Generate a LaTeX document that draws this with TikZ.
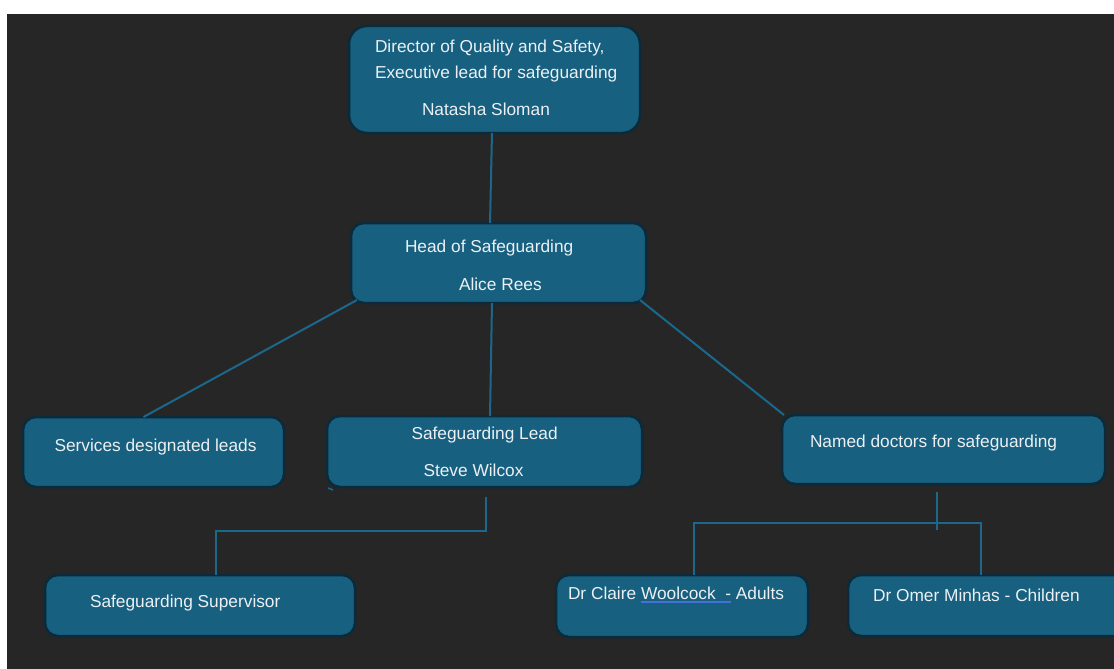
\documentclass[tikz,border=0pt]{standalone}
\usepackage{fontspec}
\setmainfont{Liberation Sans}
\usepackage{tikz}
\newcommand{\chartfontsize}{\fontsize{17.3}{20}\selectfont}
\newsavebox{\spellbox}
\newcommand{\spellmark}[1]{\sbox\spellbox{#1}\rlap{\color{spellblue}\rule[-3.5pt]{\wd\spellbox}{1.6pt}}\usebox\spellbox}
\definecolor{pagebg}{RGB}{38,38,38}
\definecolor{boxfill}{RGB}{23,96,128}
\definecolor{boxedge}{RGB}{11,42,58}
\definecolor{wirecol}{RGB}{28,104,140}
\definecolor{boxtext}{RGB}{236,240,243}
\definecolor{spellblue}{RGB}{70,112,215}
\tikzstyle{post}=[draw=boxedge, fill=boxfill, line width=2.5pt, rounded corners=13pt, inner sep=0, outer sep=0]
\tikzstyle{toppost}=[post, rounded corners=18pt]
\tikzstyle{posttext}=[inner sep=0, outer sep=0, anchor=base west, text=boxtext, font=\chartfontsize]
\tikzstyle{wire}=[draw=wirecol, line width=2pt]
\tikzstyle{orgchart}=[x=1pt, y=-1pt]

\begin{document}
\begin{tikzpicture}[orgchart]
        \clip (0,0) rectangle (1114,669);
        \fill[white] (0,0) rectangle (1114,669);
        \fill[pagebg] (7,14) rectangle (1114,669);
        % boxes
        \node[toppost, minimum width=291pt, minimum height=107pt] (director)   at (494.5,79.5)  {};
        \node[post, minimum width=295pt, minimum height=80pt]     (head)       at (498.5,263)   {};
        \node[post, minimum width=261pt, minimum height=70pt]     (services)   at (153.5,452)   {};
        \node[post, minimum width=315pt, minimum height=71pt]     (sglead)     at (484.5,451.5) {};
        \node[post, minimum width=323pt, minimum height=69pt]     (named)      at (943.5,449.5) {};
        \node[post, minimum width=310pt, minimum height=61pt]     (supervisor) at (200,605.5)   {};
        \node[post, minimum width=252pt, minimum height=62pt]     (claire)     at (682,606)     {};
        \node[post, minimum width=282pt, minimum height=61pt]     (omer)       at (989,605.5)   {};
        % texts
        \node[posttext] (directorT1)   at (375,52.5)  {Director of Quality and Safety,};
        \node[posttext] (directorT2)   at (375,78)    {Executive lead for safeguarding};
        \node[posttext] (directorT3)   at (422,115)   {Natasha Sloman};
        \node[posttext] (headT1)       at (405,252.5) {Head of Safeguarding};
        \node[posttext] (headT2)       at (459,290.5) {Alice Rees};
        \node[posttext] (servicesT1)   at (54.5,451)  {Services designated leads};
        \node[posttext] (sgleadT1)     at (411.5,439.5) {Safeguarding Lead};
        \node[posttext] (sgleadT2)     at (423.5,476.5) {Steve Wilcox};
        \node[posttext] (namedT1)      at (810,447.5) {Named doctors for safeguarding};
        \node[posttext] (supervisorT1) at (90,607.5)  {Safeguarding Supervisor};
        \node[posttext] (claireT1)     at (568,599.5) {Dr Claire \spellmark{Woolcock\ \ -} Adults};
        \node[posttext] (omerT1)       at (873,601)   {Dr Omer Minhas - Children};
        % connectors
        \coordinate (leadjoin) at (486,531);
        \coordinate (docjoin)  at (937,523);
        \draw[wire] ([xshift=-2.5pt]director.south) -- ([xshift=-8.5pt]head.north);
        \draw[wire] ([xshift=6pt,yshift=3pt]head.south west) -- ([xshift=-10pt]services.north);
        \draw[wire] ([xshift=-6.5pt]head.south) -- ([xshift=5.5pt]sglead.north);
        \draw[wire] ([xshift=-6pt,yshift=3pt]head.south east) -- ([xshift=2pt]named.north west);
        \draw[wire] (leadjoin |- sglead.south) ++(0,10) -- (leadjoin) -| ([xshift=16pt]supervisor.north);
        \draw[wire] (docjoin |- named.south) ++(0,8) -- ++(0,38);
        \draw[wire] ([xshift=12pt]claire.north) |- (docjoin) -| ([xshift=-8pt]omer.north);
        \draw[wire, line width=1.5pt] ([xshift=1pt,yshift=-1pt]sglead.south west) -- ++(5,2);
    \end{tikzpicture}
\end{document}
